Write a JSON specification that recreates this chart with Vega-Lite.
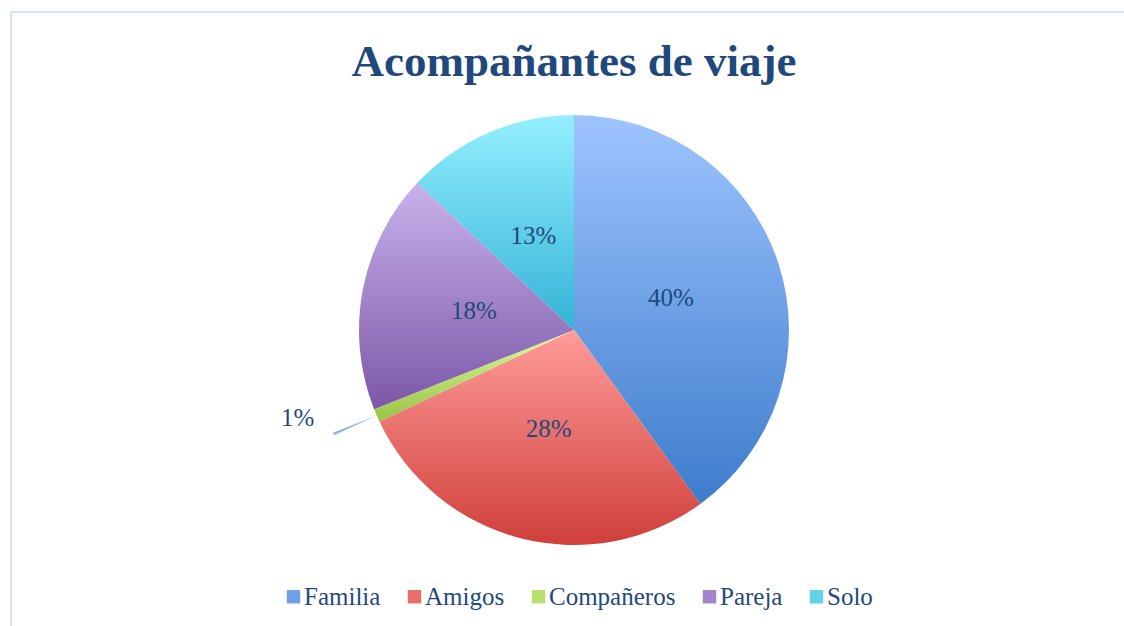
{
  "$schema": "https://vega.github.io/schema/vega-lite/v6.json",
  "width": 1126,
  "height": 636,
  "autosize": {"type": "none"},
  "padding": {"left": 11, "top": 12, "right": 0, "bottom": 0},
  "background": "white",
  "config": {
    "view": {"stroke": null},
    "font": "Liberation Serif"
  },
  "title": {
    "text": "Acompañantes de viaje",
    "font": "Liberation Serif",
    "fontSize": 45,
    "fontWeight": "bold",
    "color": "#1F497D",
    "anchor": "middle",
    "baseline": "alphabetic",
    "offset": 0,
    "dy": 110
  },
  "data": {
    "values": [
      {"categoria": "Familia", "porcentaje": 0.40},
      {"categoria": "Amigos", "porcentaje": 0.28},
      {"categoria": "Compañeros", "porcentaje": 0.01},
      {"categoria": "Pareja", "porcentaje": 0.18},
      {"categoria": "Solo", "porcentaje": 0.13}
    ]
  },
  "transform": [{"window": [{"op": "row_number", "as": "idx"}]}],
  "layer": [
    {
      "data": {"values": [{}]},
      "mark": {"type": "rect", "fill": null, "stroke": "#D5E3F3", "strokeWidth": 2},
      "encoding": {}
    },
    {
      "mark": {"type": "arc", "innerRadius": 215, "outerRadius": 262, "padAngle": 0.041, "stroke": null},
      "encoding": {
        "theta": {"field": "porcentaje", "type": "quantitative", "stack": true},
        "order": {"field": "idx", "type": "quantitative"},
        "fill": {"value": "#8DB3E2"},
        "opacity": {"condition": {"test": "datum.categoria === 'Compañeros'", "value": 1}, "value": 0}
      }
    },
    {
      "mark": {"type": "arc", "outerRadius": 215, "stroke": null},
      "encoding": {
        "theta": {"field": "porcentaje", "type": "quantitative", "stack": true},
        "order": {"field": "idx", "type": "quantitative"},
        "fill": {
          "condition": [
            {"test": "datum.categoria === 'Familia'", "value": {"gradient": "linear", "x1": 0, "y1": 0, "x2": 0, "y2": 1, "stops": [{"offset": 0, "color": "#9EC4FF"}, {"offset": 1, "color": "#3D7CCB"}]}},
            {"test": "datum.categoria === 'Amigos'", "value": {"gradient": "linear", "x1": 0, "y1": 0, "x2": 0, "y2": 1, "stops": [{"offset": 0, "color": "#FF9C99"}, {"offset": 1, "color": "#CF3F3B"}]}},
            {"test": "datum.categoria === 'Compañeros'", "value": {"gradient": "linear", "x1": 0, "y1": 0, "x2": 0, "y2": 1, "stops": [{"offset": 0, "color": "#DCFB9E"}, {"offset": 1, "color": "#9AC245"}]}},
            {"test": "datum.categoria === 'Pareja'", "value": {"gradient": "linear", "x1": 0, "y1": 0, "x2": 0, "y2": 1, "stops": [{"offset": 0, "color": "#C8B2EB"}, {"offset": 1, "color": "#7C57A7"}]}},
            {"test": "datum.categoria === 'Solo'", "value": {"gradient": "linear", "x1": 0, "y1": 0, "x2": 0, "y2": 1, "stops": [{"offset": 0, "color": "#94EFFE"}, {"offset": 1, "color": "#33B3D6"}]}}
          ],
          "field": "categoria",
          "type": "nominal",
          "sort": null,
          "scale": {
            "domain": ["Familia", "Amigos", "Compañeros", "Pareja", "Solo"],
            "range": ["#6EA0E6", "#E76E6A", "#BBDE71", "#A285C9", "#63D1EA"]
          },
          "legend": {
            "title": null,
            "orient": "none",
            "direction": "horizontal",
            "legendX": 270,
            "legendY": 572,
            "padding": 0,
            "symbolType": "square",
            "symbolSize": 180,
            "symbolStrokeWidth": 0,
            "labelFont": "Liberation Serif",
            "labelFontSize": 25,
            "labelColor": "#1F497D",
            "labelOffset": -2,
            "columnPadding": 21,
            "labelLimit": 300
          }
        }
      }
    },
    {
      "mark": {"type": "text", "radius": 102, "font": "Liberation Serif", "fontSize": 25, "color": "#1F497D", "align": "center", "baseline": "middle"},
      "encoding": {
        "theta": {"field": "porcentaje", "type": "quantitative", "stack": true},
        "order": {"field": "idx", "type": "quantitative"},
        "text": {
          "condition": {"test": "datum.categoria === 'Compañeros'", "value": ""},
          "field": "porcentaje",
          "type": "quantitative",
          "format": ".0%"
        }
      }
    },
    {
      "mark": {"type": "text", "radius": 290, "thetaOffset": 0.1, "font": "Liberation Serif", "fontSize": 25, "color": "#1F497D", "align": "center", "baseline": "middle"},
      "encoding": {
        "theta": {"field": "porcentaje", "type": "quantitative", "stack": true},
        "order": {"field": "idx", "type": "quantitative"},
        "text": {
          "condition": {"test": "datum.categoria !== 'Compañeros'", "value": ""},
          "field": "porcentaje",
          "type": "quantitative",
          "format": ".0%"
        }
      }
    }
  ]
}
